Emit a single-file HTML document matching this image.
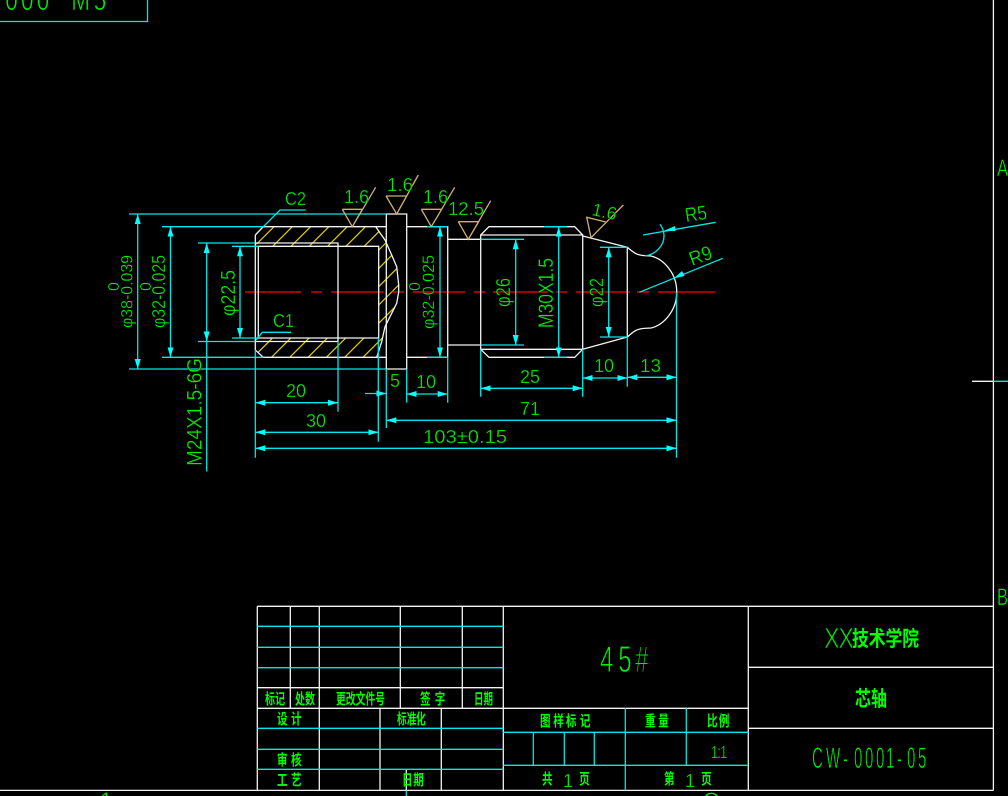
<!DOCTYPE html>
<html><head><meta charset="utf-8"><style>
html,body{margin:0;padding:0;background:#000;width:1008px;height:796px;overflow:hidden}
svg{display:block}
.w{stroke:#f4f4f4;stroke-width:1.3;fill:none}
.c{stroke:#00e8e8;stroke-width:1.3;fill:none}
.r{stroke:#ff0000;stroke-width:1.3;fill:none}
.h{stroke:#e6d000;stroke-width:1.2;fill:none}
.t{stroke:#d0b070;stroke-width:1.3;fill:none}
.a{marker-start:url(#ar);marker-end:url(#ar)}
.e{marker-end:url(#ar)}
text{font-family:"Liberation Sans","Noto Sans CJK SC",sans-serif;fill:#00f000;font-size:18px;stroke:#000;stroke-width:.3px}
.k{font-family:"Liberation Sans","Noto Sans CJK SC",sans-serif;fill:#00ff00;font-size:15px;font-weight:700;stroke:none}
.thin{stroke-width:.6px}
</style></head><body>
<svg width="1008" height="796" viewBox="0 0 1008 796" xmlns="http://www.w3.org/2000/svg">
<defs>
<marker id="ar" viewBox="0 -3.5 10 7" refX="10" refY="0" markerWidth="10" markerHeight="7" markerUnits="userSpaceOnUse" orient="auto-start-reverse"><path d="M10,0L0,-3L0,3Z" fill="#00ffff"/></marker>
<clipPath id="hc"><path d="M255.3,243L263.3,226.7L375.7,226.7L385,240L391.7,255L396.7,266.7L398.7,285L396.7,303.3L390,316.7L385,326.7L381.7,341.7L376.7,357.3L263.3,357.3L256,350L258.3,338L378.7,338L378.7,246.3L258.3,246.3Z"/></clipPath>
</defs>

<!-- top-left box and frame -->
<path class="c" d="M0,21.5H147.5V0"/>
<g transform="translate(0,10) scale(.75,1)"><text class="thin" x="7 28 49 95 125" y="0" style="font-size:30px">000M5</text></g>
<path class="w" d="M993.4,0V790.4M0,790.4H993.4M972,381.3H993.4"/>
<path class="c" d="M993.4,381.3H1008M406.3,790.4V796"/>
<text x="997" y="176" style="font-size:24px;stroke-width:.5px" textLength="11" lengthAdjust="spacingAndGlyphs">A</text>
<text x="997" y="605" style="font-size:24px;stroke-width:.5px" textLength="11" lengthAdjust="spacingAndGlyphs">B</text>
<text x="100" y="808" style="font-size:22px">1</text>
<text x="703" y="808" style="font-size:22px">C</text>

<!-- hatch -->
<g clip-path="url(#hc)" class="h">
<path d="M300.7,200L120.7,380M319,200L139,380M337.3,200L157.3,380M355.6,200L175.6,380M373.9,200L193.9,380M392.2,200L212.2,380M410.5,200L230.5,380M428.8,200L248.8,380M447.1,200L267.1,380M465.4,200L285.4,380M483.7,200L303.7,380M502,200L322,380M520.3,200L340.3,380M538.6,200L358.6,380"/>
</g>

<!-- centre line -->
<path class="r" d="M245,292H301M311,292H322M331,292H383M391.7,292H404M412.7,292H465M474,292H485M493,292H548M556,292H567M576,292H630M637,292H649M658,292H715"/>

<!-- part outline -->
<path class="w" d="M255.3,235L263.3,226.7H386M255.3,235V350L263.3,357.3H386M258.3,246.3H378.7V338H258.3ZM255.3,243H338V341.5H255.3M376.7,357.3L381.7,341.7L385,326.7L390,316.7L396.7,303.3L398.7,292V285L396.7,266.7L391.7,255L385,240L375.7,226.7"/>
<path class="w" d="M386.3,214H406.7V369H386.3ZM406.7,226.7H447.7V357.3H406.7M447.7,239.3H480.7M447.7,345H480.7"/>
<path class="w" d="M480.7,235H582.7V349.3H480.7ZM480.7,235L489,226.7H574.7L582.7,235M480.7,349.3L489,357.3H574.7L582.7,349.3"/>
<path class="w" d="M582.7,236L627.3,247.3V337L582.7,349.3"/>
<path class="w" d="M627.3,247.3C632,251 635,254 640,255C644,256 646,255.5 651,256C664,259 677,274 676.7,292C677,310 664,325 651,328C646,328.5 644,328 640,329C635,330 632,333 627.3,337"/>

<!-- extension lines -->
<path class="c" d="M129,214H386.3M129,369H386.3M162,226.7H263.3M162,357.3H263.3M198,243H255.3M198,341.5H255.3M232,246.3H258.3M232,338H258.3"/>
<path class="c" d="M255.3,350V457.7M338,341.5V411.7M378.3,338V441.7M386.3,369V428M406.7,369V402.7M447.7,357.3V402.7M480.7,349.3V396.7M582.7,349.3V396.7M627.3,337V386.7M676.5,292V457.7"/>
<path class="c" d="M480.7,239.3H524M480.7,345H524M544,226.7H567M544,357.3H567M600,247.3H627.3M600,337H627.3M427,226.7H447.7M427,357.3H447.7"/>

<!-- dimensions -->
<path class="c a" d="M137.7,214V369"/>
<path class="c a" d="M170.5,226.7V357.3"/>
<path class="c a" d="M206.7,243V341.5"/>
<path class="c" d="M206.7,341.5V471.5"/>
<path class="c a" d="M240,246.3V338"/>
<path class="c a" d="M440,226.7V357.3"/>
<path class="c a" d="M515.7,239.3V345"/>
<path class="c a" d="M558.7,226.7V357.3"/>
<path class="c a" d="M608.7,247.3V337"/>
<path class="c a" d="M255.3,402.7H338"/>
<path class="c a" d="M255.3,432.3H378.3"/>
<path class="c a" d="M255.3,448.3H676.5"/>
<path class="c a" d="M386.3,420.3H676.5"/>
<path class="c e" d="M365,393.5H386.3"/>
<path class="c a" d="M406.7,394H447.7"/>
<path class="c a" d="M480.7,388.3H582.7"/>
<path class="c a" d="M582.7,378H627.3"/>
<path class="c a" d="M627.3,377.3H676.5"/>

<!-- leaders -->
<path class="c" d="M263.3,226.7L280,210H305.7M256,340L262.3,332.3H291"/>
<path class="c" d="M645,255.7C655,255 664,246 664,236C664,231 662,227 660,224.3"/>
<path class="c" d="M715.7,222.3L643,235"/>
<path d="M664,230.8L675,226L675.5,231Z" fill="#00ffff"/>
<path class="c" d="M722.7,258.3L639.3,292.3"/>
<path d="M674,278.3L682,271L684.5,276Z" fill="#00ffff"/>

<!-- roughness symbols -->
<path class="t" d="M342.3,209.3H362.3L352.3,226.7L342.3,209.3M352.3,226.7L375.7,187.3"/>
<path class="t" d="M386,196H406.7L396.7,214L386,196M396.7,214L418.3,175"/>
<path class="t" d="M421.3,209.3H441.7L431.3,226.7L421.3,209.3M431.3,226.7L454.7,187.3"/>
<path class="t" d="M458.3,221.7H478.7L468.3,239.3L458.3,221.7M468.3,239.3L490.7,200.7"/>
<path class="t" d="M591,237.7L586.7,217.3L605.7,222M591,237.7L623.3,205"/>

<text x="344" y="203" textLength="25" lengthAdjust="spacingAndGlyphs">1.6</text>
<text x="387" y="191" textLength="26" lengthAdjust="spacingAndGlyphs">1.6</text>
<text x="423" y="203" textLength="25" lengthAdjust="spacingAndGlyphs">1.6</text>
<text x="448" y="215" textLength="36" lengthAdjust="spacingAndGlyphs">12.5</text>
<text transform="translate(591,215) rotate(12)" textLength="25" lengthAdjust="spacingAndGlyphs">1.6</text>
<text x="285" y="205" textLength="21" lengthAdjust="spacingAndGlyphs">C2</text>
<text x="273" y="327" textLength="21" lengthAdjust="spacingAndGlyphs">C1</text>
<text transform="translate(686,222) rotate(-8)" style="font-size:20px" textLength="22" lengthAdjust="spacingAndGlyphs">R5</text>
<text transform="translate(692,266) rotate(-20)" style="font-size:20px" textLength="23" lengthAdjust="spacingAndGlyphs">R9</text>

<text x="286" y="397" textLength="20" lengthAdjust="spacingAndGlyphs">20</text>
<text x="306" y="427" textLength="20" lengthAdjust="spacingAndGlyphs">30</text>
<text x="390" y="387" textLength="10" lengthAdjust="spacingAndGlyphs">5</text>
<text x="416" y="388" textLength="20" lengthAdjust="spacingAndGlyphs">10</text>
<text x="520" y="383" textLength="20" lengthAdjust="spacingAndGlyphs">25</text>
<text x="594" y="372" textLength="20" lengthAdjust="spacingAndGlyphs">10</text>
<text x="640" y="372" textLength="21" lengthAdjust="spacingAndGlyphs">13</text>
<text x="520" y="415" textLength="20" lengthAdjust="spacingAndGlyphs">71</text>
<text x="423" y="443" textLength="84" lengthAdjust="spacingAndGlyphs">103±0.15</text>

<text transform="translate(132.7,328) rotate(-90)" style="font-size:17px" textLength="73" lengthAdjust="spacingAndGlyphs">φ38-0.039</text>
<text transform="translate(119,291) rotate(-90)" style="font-size:16px">0</text>
<text transform="translate(165,328) rotate(-90)" style="font-size:18px" textLength="73" lengthAdjust="spacingAndGlyphs">φ32-0.025</text>
<text transform="translate(151,291) rotate(-90)" style="font-size:16px">0</text>
<text transform="translate(235,316) rotate(-90)" style="font-size:20px" textLength="46" lengthAdjust="spacingAndGlyphs">φ22.5</text>
<text transform="translate(434,329) rotate(-90)" style="font-size:17px" textLength="74" lengthAdjust="spacingAndGlyphs">φ32-0.025</text>
<text transform="translate(420,291) rotate(-90)" style="font-size:16px">0</text>
<text transform="translate(510,307) rotate(-90)" style="font-size:20px" textLength="29" lengthAdjust="spacingAndGlyphs">φ26</text>
<text transform="translate(553,328) rotate(-90)" style="font-size:21px" textLength="70" lengthAdjust="spacingAndGlyphs">M30X1.5</text>
<text transform="translate(603,307) rotate(-90)" style="font-size:19px" textLength="29" lengthAdjust="spacingAndGlyphs">φ22</text>
<text transform="translate(201.7,466) rotate(-90)" style="font-size:21px" textLength="108" lengthAdjust="spacingAndGlyphs">M24X1.5-6G</text>

<!-- title block -->
<path class="w" d="M257.3,606.3H993.4M257.3,606.3V790.4M503.3,606.3V790.4M748.3,606.3V790.4M290.3,606.3V708.3M319.3,606.3V790.4M400.3,606.3V708.3M462.3,606.3V708.3M257.3,687.7H503.3M257.3,708.3H748.3M380,708.3V790.4M441.3,708.3V790.4M406.3,769.3V790.4M748.3,667.3H993.4M748.3,728.3H993.4"/>
<path class="c" d="M257.3,626.3H503.3M257.3,647.3H503.3M257.3,667.7H503.3M257.3,728.3H503.3M257.3,749.3H503.3M257.3,769.3H503.3"/>
<path class="c" d="M625.3,708.3V790.4M686.3,708.3V765.3M503.3,732.3H748.3M503.3,765.3H748.3M533.3,732.3V765.3M564.3,732.3V765.3M594.3,732.3V765.3"/>

<g transform="translate(600,672) scale(.65,1)"><text x="0 28 54" y="0" style="font-size:37px;stroke-width:.9px">45#</text></g>
<g transform="translate(711,758) scale(.7,1)"><text x="0 9 13" y="0" style="font-size:18px">1:1</text></g>
<g transform="translate(824,648) scale(.8,1)"><text x="0 18" y="0" style="font-size:29px;stroke-width:.8px">XX</text></g>
<text x="852" y="646" class="k" style="font-size:21px" textLength="67" lengthAdjust="spacingAndGlyphs">技术学院</text>
<text x="855" y="706" class="k" style="font-size:21px" textLength="32" lengthAdjust="spacingAndGlyphs">芯轴</text>
<g transform="translate(812,768) scale(.5,1)"><text x="0 28 62 84 106 128 148 170 190 212" y="0" style="font-size:30px;stroke-width:.7px">CW-0001-05</text></g>

<text x="265" y="704" class="k" textLength="20" lengthAdjust="spacingAndGlyphs">标记</text>
<text x="295" y="704" class="k" textLength="20" lengthAdjust="spacingAndGlyphs">处数</text>
<text x="336" y="704" class="k" textLength="49" lengthAdjust="spacingAndGlyphs">更改文件号</text>
<g transform="translate(420,704) scale(.7,1)"><text class="k" x="0 21" y="0">签字</text></g>
<text x="474" y="704" class="k" textLength="19" lengthAdjust="spacingAndGlyphs">日期</text>
<g transform="translate(277,724) scale(.7,1)"><text class="k" x="0 20" y="0">设计</text></g>
<g transform="translate(397,724) scale(.65,1)"><text class="k" x="0 15 29" y="0">标准化</text></g>
<g transform="translate(277,765) scale(.7,1)"><text class="k" x="0 20" y="0">审核</text></g>
<g transform="translate(277,785) scale(.7,1)"><text class="k" x="0 20" y="0">工艺</text></g>
<g transform="translate(402,785) scale(.7,1)"><text class="k" x="0 16" y="0">日期</text></g>
<g transform="translate(540,726) scale(.7,1)"><text class="k" x="0 19 37 57" y="0">图样标记</text></g>
<g transform="translate(645,726) scale(.7,1)"><text class="k" x="0 19" y="0">重量</text></g>
<g transform="translate(707,726) scale(.7,1)"><text class="k" x="0 17" y="0">比例</text></g>
<g transform="translate(542,784) scale(.7,1)"><text class="k" x="0 53" y="0">共页</text></g>
<g transform="translate(664,784) scale(.7,1)"><text class="k" x="0 53" y="0">第页</text></g>
<text x="563" y="787" style="font-size:18px">1</text>
<text x="685" y="787" style="font-size:18px">1</text>
</svg>
</body></html>
